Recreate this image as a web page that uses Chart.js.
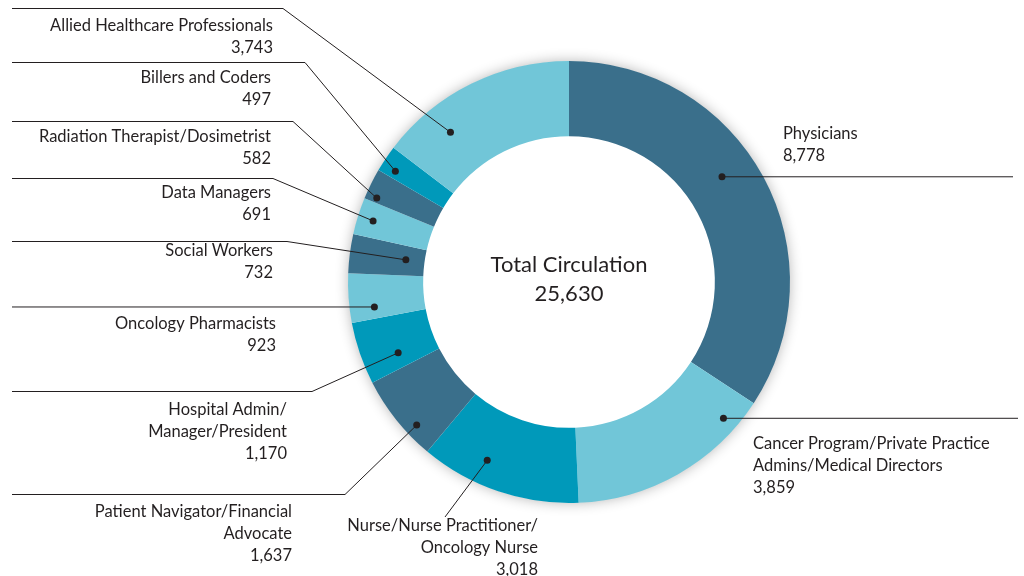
<!DOCTYPE html>
<html>
<head>
<meta charset="utf-8">
<script src="https://cdn.jsdelivr.net/npm/chart.js@4.4.1/dist/chart.umd.min.js"></script>
<style>
  html, body { margin: 0; padding: 0; background: #fff; }
  #wrap { width: 1024px; height: 576px; }
</style>
</head>
<body>
<div id="wrap"><canvas id="circChart" width="1024" height="576"></canvas></div>
<script>
// audience groups, clockwise from the top
const categories = [
  ["Physicians"],
  ["Cancer Program/Private Practice", "Admins/Medical Directors"],
  ["Nurse/Nurse Practitioner/", "Oncology Nurse"],
  ["Patient Navigator/Financial", "Advocate"],
  ["Hospital Admin/", "Manager/President"],
  ["Oncology Pharmacists"],
  ["Social Workers"],
  ["Data Managers"],
  ["Radiation Therapist/Dosimetrist"],
  ["Billers and Coders"],
  ["Allied Healthcare Professionals"]
];
const circulation = [8778, 3859, 3018, 1637, 1170, 923, 732, 691, 582, 497, 3743];
const centerLines = ["Total Circulation", "25,630"];

const DARK = "#3a6f8b", LIGHT = "#71c6d8", MID = "#0099ba";
const sliceColors = [DARK, LIGHT, MID, DARK, MID, LIGHT, DARK, LIGHT, DARK, MID, LIGHT];

// where each callout sits: dot position inside its slice (f along arc, rf across ring),
// optional elbow, line end, and text anchor
const callouts = [
  { f: 0.45, rf: 0.53, elbow: null, end: [1013, null], tx: 783, ty: 134, align: "left" },
  { f: 0.15, rf: 0.80, elbow: null, end: [1018, null], tx: 753, ty: 444, align: "left" },
  { f: 0.64, rf: 0.67, elbow: null, end: [445, 517], tx: 538, ty: 526, align: "right" },
  { f: 0.30, rf: 0.84, elbow: [345, 494], end: [12, 494], tx: 292, ty: 512, align: "right" },
  { f: 0.28, rf: 0.52, elbow: [312, 391], end: [12, 391], tx: 287, ty: 410, align: "right" },
  { f: 0.26, rf: 0.67, elbow: null, end: [12, null], tx: 276, ty: 324, align: "right" },
  { f: 0.53, rf: 0.25, elbow: [287, 241], end: [12, 241], tx: 273, ty: 251, align: "right" },
  { f: 0.49, rf: 0.79, elbow: [273, 178], end: [12, 178], tx: 271, ty: 193, align: "right" },
  { f: 0.16, rf: 0.85, elbow: [293, 121], end: [12, 121], tx: 271, ty: 137, align: "right" },
  { f: 0.30, rf: 0.80, elbow: [305, 62], end: [12, 62], tx: 271, ty: 78, align: "right" },
  { f: 0.27, rf: 0.60, elbow: [283, 8], end: [12, 8], tx: 273, ty: 26, align: "right" }
];

const FONT = "Lato, 'Open Sans', sans-serif";
const INK = "#231f20";

// soft grey halo round the outside of the ring
const ringShadow = {
  id: "ringShadow",
  beforeDatasetsDraw(chart) {
    const arc = chart.getDatasetMeta(0).data[0];
    if (!arc) return;
    const { x, y, outerRadius } = arc.getProps(["x", "y", "outerRadius"], true);
    const ctx = chart.ctx;
    ctx.save();
    ctx.beginPath();
    ctx.rect(0, 0, chart.width, chart.height);
    ctx.arc(x, y, outerRadius - 0.5, 0, Math.PI * 2, true);
    ctx.clip("evenodd");
    ctx.shadowColor = "rgba(0,0,0,0.32)";
    ctx.shadowBlur = 14;
    ctx.fillStyle = "#fff";
    ctx.beginPath();
    ctx.arc(x, y, outerRadius - 1, 0, Math.PI * 2);
    ctx.fill();
    ctx.restore();
  }
};

const calloutLabels = {
  id: "calloutLabels",
  afterDraw(chart) {
    const ctx = chart.ctx;
    const arcs = chart.getDatasetMeta(0).data;
    const labels = chart.data.labels;
    const values = chart.data.datasets[0].data;

    ctx.save();
    arcs.forEach((arc, i) => {
      const c = callouts[i];
      const p = arc.getProps(["x", "y", "startAngle", "endAngle", "innerRadius", "outerRadius"], true);
      const a = p.startAngle + c.f * (p.endAngle - p.startAngle);
      const r = p.innerRadius + c.rf * (p.outerRadius - p.innerRadius);
      const dx = p.x + Math.cos(a) * r;
      const dy = p.y + Math.sin(a) * r;

      ctx.strokeStyle = INK;
      ctx.lineWidth = 1;
      ctx.beginPath();
      ctx.moveTo(dx, dy);
      if (c.elbow) {
        ctx.lineTo(c.elbow[0], c.elbow[1] + 0.5);
        ctx.lineTo(c.end[0], c.end[1] + 0.5);
      } else if (c.end[1] === null) {
        ctx.lineTo(c.end[0], dy);
      } else {
        ctx.lineTo(c.end[0], c.end[1]);
      }
      ctx.stroke();

      ctx.fillStyle = INK;
      ctx.beginPath();
      ctx.arc(dx, dy, 3.5, 0, Math.PI * 2);
      ctx.fill();

      const lines = labels[i].concat([values[i].toLocaleString("en-US")]);
      ctx.font = "16.5px " + FONT;
      ctx.textAlign = c.align;
      ctx.textBaseline = "middle";
      lines.forEach((t, k) => ctx.fillText(t, c.tx, c.ty + k * 22));
    });

    // centre caption
    const first = arcs[0];
    ctx.font = "22px " + FONT;
    ctx.textAlign = "center";
    ctx.fillText(centerLines[0], first.x, 265);
    ctx.fillText(centerLines[1], first.x, 294);
    ctx.restore();
  }
};

new Chart(document.getElementById("circChart"), {
  type: "doughnut",
  data: {
    labels: categories,
    datasets: [{
      data: circulation,
      backgroundColor: sliceColors,
      borderWidth: 0
    }]
  },
  options: {
    responsive: false,
    animation: false,
    cutout: "66%",
    rotation: 0,
    layout: { padding: { top: 61, bottom: 73, left: 114, right: 0 } },
    plugins: {
      legend: { display: false },
      tooltip: { enabled: false }
    }
  },
  plugins: [ringShadow, calloutLabels]
});
</script>
</body>
</html>
